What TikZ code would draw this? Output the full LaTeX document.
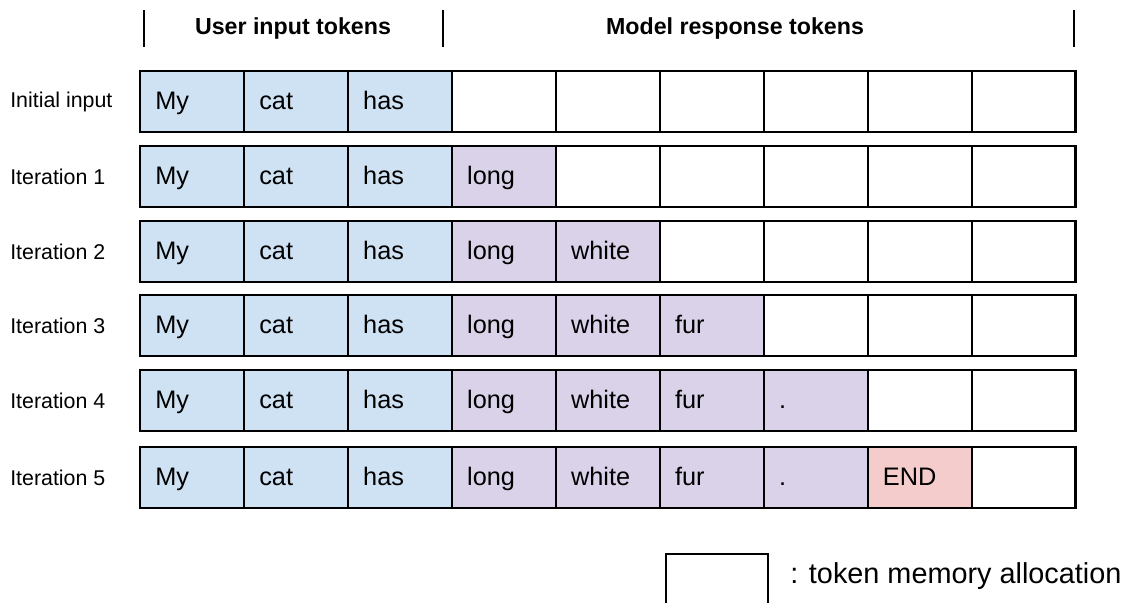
\documentclass[tikz,border=0pt]{standalone}
\usepackage{fontspec}
\setmainfont{Liberation Sans}
\usetikzlibrary{positioning}
\definecolor{userblue}{HTML}{CFE2F3}
\definecolor{modelpurple}{HTML}{D9D2E9}
\definecolor{endred}{HTML}{F4CCCC}

\begin{document}
\begin{tikzpicture}[x=0.025cm, y=-0.025cm,
    cell/.style={draw, line width=1.6pt, outer sep=0pt, minimum width=2.5975cm, minimum height=1.525cm},
    tokentext/.style={anchor=base west, inner sep=0pt, font=\fontsize{18}{21}\selectfont},
    rowlabel/.style={anchor=west, inner sep=0pt, font=\fontsize{15.2}{18}\selectfont},
    header/.style={font=\fontsize{16.5}{19}\selectfont\bfseries},
    bar/.style={line width=1.8pt}]

    \clip (0,0) rectangle (1129,603);

    % header with separators
    \draw[bar] (144,10) -- (144,47);
    \draw[bar] (443,10) -- (443,47);
    \draw[bar] (1074,10) -- (1074,47);
    \node[header] (usertok) at (293,29) {User input tokens};
    \node[header] (modeltok) at (735,29) {Model response tokens};

    % one row of 9 token slots per iteration
    \foreach \lab/\y [count=\r from 0] in {Initial input/101.5, Iteration 1/176.5, Iteration 2/251.5,
        Iteration 3/325.5, Iteration 4/400.5, Iteration 5/477.5} {
      \node[rowlabel] (label\r) at (10,\y) {\lab};
      \pgfmathtruncatemacro\lastfilled{3+\r}
      \foreach \w [count=\k from 0] in {My,cat,has,long,white,fur,.,END,{}} {
        \ifnum\k<3 \def\cellfill{userblue}\def\celltext{\w}%
        \else\ifnum\k<\lastfilled\relax
          \ifnum\k=7 \def\cellfill{endred}\else\def\cellfill{modelpurple}\fi
          \def\celltext{\w}%
        \else\def\cellfill{white}\def\celltext{}\fi\fi
        \node[cell, fill=\cellfill] (cell\r-\k) at ({192+103.95*\k},\y) {};
        \node[tokentext] (tok\r-\k) at ([xshift=0.375cm, yshift=-0.2cm]cell\r-\k.west) {\celltext};
      }
    }

    % legend
    \node[draw, line width=1.6pt, minimum width=2.55cm, minimum height=1.5cm, anchor=north west] (legendbox) at (665,553) {};
    \node[anchor=west, inner sep=0pt, font=\fontsize{20.5}{24}\selectfont] (legendtext) at (790,576) {: token memory allocation};
\end{tikzpicture}
\end{document}
